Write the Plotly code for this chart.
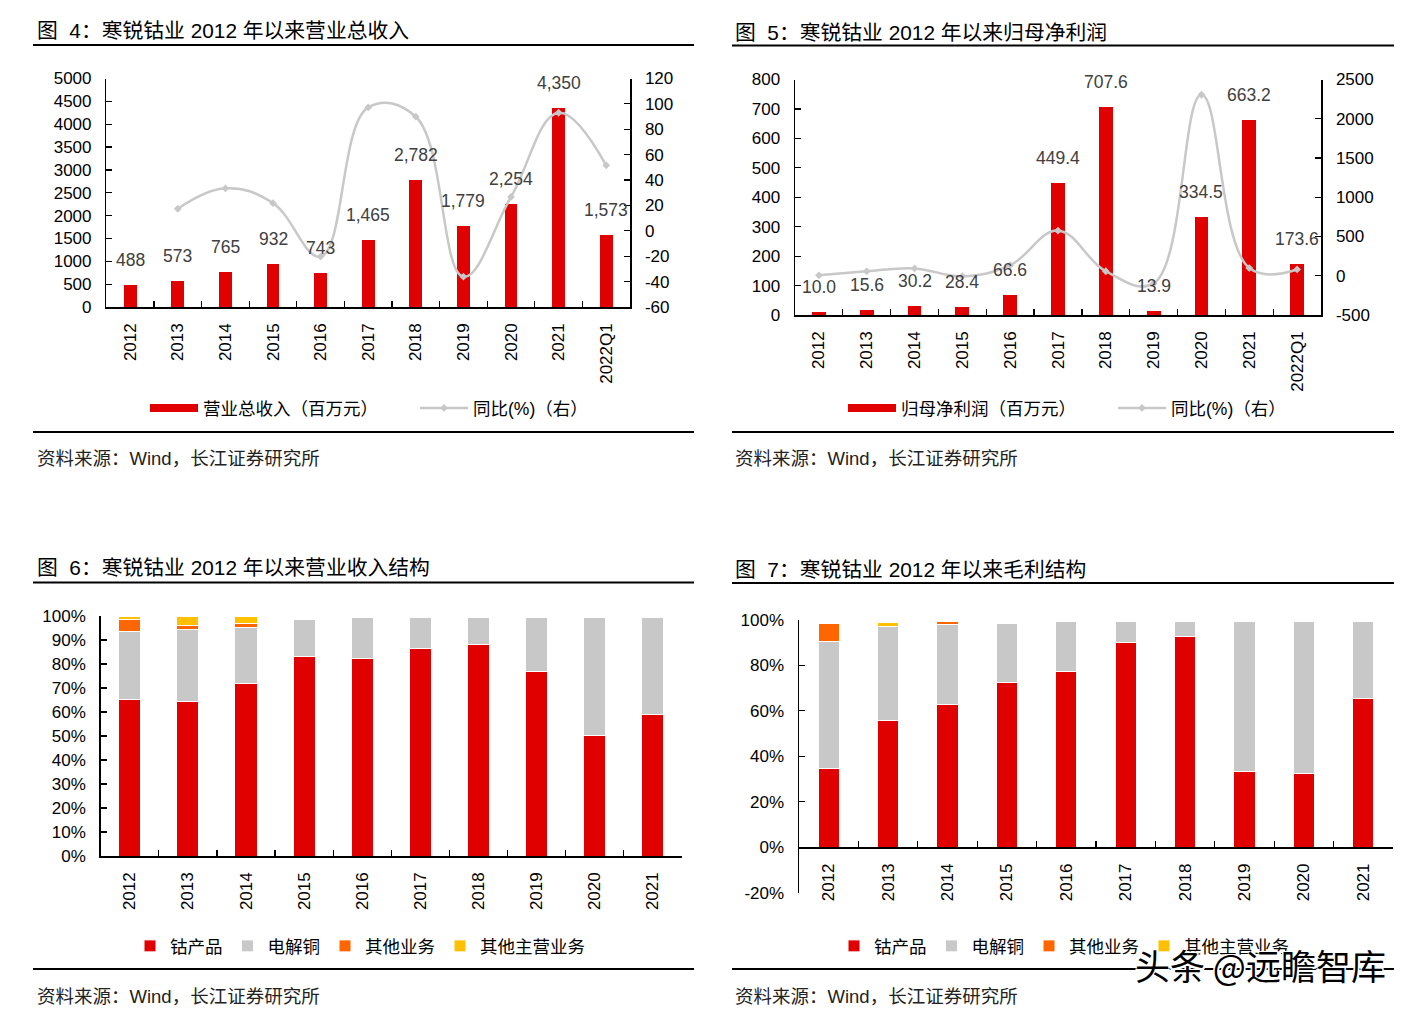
import plotly.graph_objects as go

W, H = 1425, 1012
FONT = "Liberation Sans, Arial, Noto Sans CJK SC, sans-serif"
RED = "#E00000"
GRAY = "#C8C8C8"
ORANGE = "#FF6600"
YELLOW = "#FFC000"
LABEL = "#404040"

# ---------------- data ----------------
cats_a = ["2012", "2013", "2014", "2015", "2016", "2017", "2018", "2019", "2020", "2021", "2022Q1"]
revenue = [488, 573, 765, 932, 743, 1465, 2782, 1779, 2254, 4350, 1573]
revenue_yoy = [None, 17.4, 33.5, 21.8, -20.3, 97.2, 89.9, -36.1, 26.7, 93.0, 51.6]
net_profit = [10.0, 15.6, 30.2, 28.4, 66.6, 449.4, 707.6, 13.9, 334.5, 663.2, 173.6]
profit_yoy = [5, 56.0, 93.6, -6.0, 134.5, 574.8, 57.5, -98.0, 2306, 98.3, 80]

cats_b = ["2012", "2013", "2014", "2015", "2016", "2017", "2018", "2019", "2020", "2021"]
rev_cobalt = [65.3, 64.4, 72.0, 83.1, 82.3, 86.5, 88.0, 76.7, 50.2, 59.0]
rev_copper = [28.4, 30.0, 23.3, 15.4, 16.9, 12.7, 11.2, 22.5, 49.0, 40.2]
rev_other = [4.8, 1.6, 1.6, 0, 0, 0, 0, 0, 0, 0]
rev_other_main = [1.5, 4.0, 3.1, 0, 0, 0, 0, 0, 0, 0]

gp_cobalt = [34.7, 55.9, 62.8, 72.3, 77.3, 90.0, 92.5, 33.1, 32.2, 65.3]
gp_copper = [55.7, 41.3, 35.0, 26.1, 22.0, 9.3, 6.8, 66.2, 67.1, 34.0]
gp_other = [8.0, 0, 1.5, 0, 0, 0, 0, 0, 0, 0]
gp_other_main = [0, 1.6, 0, 0, 0, 0, 0, 0, 0, 0]

rev_ticks = list(range(0, 5001, 500))
rev_yoy_ticks = list(range(-60, 121, 20))
np_ticks = list(range(0, 801, 100))
np_yoy_ticks = list(range(-500, 2501, 500))
pct_ticks_a = list(range(0, 101, 10))
pct_ticks_b = list(range(-20, 101, 20))

series_names = ["钴产品", "电解铜", "其他业务", "其他主营业务"]

# ---------------- helpers ----------------
def fx(px):
    return px / W

def fy(py):
    return 1 - py / H

def xdom(a, b):
    return [fx(a), fx(b)]

def ydom(top, bottom):
    return [fy(bottom), fy(top)]

fig = go.Figure()

# ---- chart 1 ----
fig.add_trace(go.Bar(x=cats_a, y=revenue, xaxis="x", yaxis="y", marker_color=RED,
                     width=0.27, showlegend=False))
fig.add_trace(go.Scatter(x=cats_a[:1], y=[None], xaxis="x", yaxis="y", mode="lines",
                         line=dict(color=RED, width=8), name="营业总收入（百万元）", legend="legend"))
fig.add_trace(go.Scatter(x=cats_a, y=revenue_yoy, xaxis="x", yaxis="y2", mode="lines+markers",
                         line=dict(color=GRAY, width=2.5, shape="spline", smoothing=1.15),
                         marker=dict(symbol="diamond", size=6, color=GRAY),
                         name="同比(%)（右）", legend="legend"))

# ---- chart 2 ----
fig.add_trace(go.Bar(x=cats_a, y=net_profit, xaxis="x2", yaxis="y3", marker_color=RED,
                     width=0.29, showlegend=False))
fig.add_trace(go.Scatter(x=cats_a[:1], y=[None], xaxis="x2", yaxis="y3", mode="lines",
                         line=dict(color=RED, width=8), name="归母净利润（百万元）", legend="legend2"))
fig.add_trace(go.Scatter(x=cats_a, y=profit_yoy, xaxis="x2", yaxis="y4", mode="lines+markers",
                         line=dict(color=GRAY, width=2.5, shape="spline", smoothing=1.15),
                         marker=dict(symbol="diamond", size=6, color=GRAY),
                         name="同比(%)（右）", legend="legend2"))

# ---- chart 3 ----
for vals, name, col in zip([rev_cobalt, rev_copper, rev_other, rev_other_main], series_names,
                           [RED, GRAY, ORANGE, YELLOW]):
    fig.add_trace(go.Bar(x=cats_b, y=vals, xaxis="x3", yaxis="y5", name=name, marker_color=col,
                         marker_line=dict(color="white", width=1.0), width=0.38, legend="legend3"))

# ---- chart 4 ----
for vals, name, col in zip([gp_cobalt, gp_copper, gp_other, gp_other_main], series_names,
                           [RED, GRAY, ORANGE, YELLOW]):
    fig.add_trace(go.Bar(x=cats_b, y=vals, xaxis="x4", yaxis="y6", name=name, marker_color=col,
                         marker_line=dict(color="white", width=1.0), width=0.36, legend="legend4"))

tickfont = dict(family=FONT, size=17, color="black")

def cat_axis(domain, anchor, cats, position=None):
    d = dict(domain=domain, type="category", categoryorder="array", categoryarray=cats,
             range=[-0.5, len(cats) - 0.5], showline=True, linecolor="black", linewidth=1.5,
             ticks="inside", ticklen=6, tickcolor="black", tickwidth=1.2, tickson="boundaries",
             tickangle=-90, tickfont=tickfont, showgrid=False, zeroline=False,
             ticklabelstandoff=8, fixedrange=True, automargin=False)
    if position is None:
        d["anchor"] = anchor
    else:
        d["anchor"] = "free"
        d["position"] = position
    return d

def val_axis(domain, anchor, rng, tv, side="left", overlaying=None, suffix=""):
    d = dict(domain=domain, anchor=anchor, range=rng, side=side, showline=True, linecolor="black",
             linewidth=1.5, ticks="inside", ticklen=6, tickcolor="black", tickwidth=1.2,
             tickvals=tv, ticktext=[f"{v}{suffix}" for v in tv], tickfont=tickfont,
             showgrid=False, zeroline=False, ticklabelstandoff=10, fixedrange=True, automargin=False)
    if overlaying:
        d["overlaying"] = overlaying
    return d

c1x, c1y = xdom(106.4, 630), ydom(78.5, 307)
c2x, c2y = xdom(795, 1321), ydom(79.5, 315)
c3x, c3y = xdom(100.7, 682), ydom(616, 856)
c4x, c4y = xdom(799, 1393), ydom(619.7, 892.7)
zero4 = c4y[0] + (0 - (-20)) / 120 * (c4y[1] - c4y[0])

layout = dict(
    width=W, height=H, margin=dict(l=0, r=0, t=0, b=0, pad=0, autoexpand=False),
    template="none",
    paper_bgcolor="white", plot_bgcolor="white",
    font=dict(family=FONT, size=17, color="black"),
    barmode="stack",
    xaxis=cat_axis(c1x, "y", cats_a),
    yaxis=val_axis(c1y, "x", [0, 5000], rev_ticks),
    yaxis2=val_axis(c1y, "x", [-60, 120], rev_yoy_ticks, side="right", overlaying="y"),
    xaxis2=cat_axis(c2x, "y3", cats_a),
    yaxis3=val_axis(c2y, "x2", [0, 800], np_ticks),
    yaxis4=val_axis(c2y, "x2", [-500, 2500], np_yoy_ticks, side="right", overlaying="y3"),
    xaxis3=cat_axis(c3x, "y5", cats_b),
    yaxis5=val_axis(c3y, "x3", [0, 100], pct_ticks_a, suffix="%"),
    xaxis4=cat_axis(c4x, "y6", cats_b, position=zero4),
    yaxis6=val_axis(c4y, "x4", [-20, 100], pct_ticks_b, suffix="%"),
)

legend_common = dict(orientation="h", yanchor="middle", bgcolor="rgba(0,0,0,0)",
                     font=dict(family=FONT, size=17.5, color="black"), traceorder="normal")
layout["legend"] = dict(legend_common, x=fx(145), xanchor="left", y=fy(408), itemwidth=48,
                        entrywidth=207, entrywidthmode="pixels")
layout["legend2"] = dict(legend_common, x=fx(843), xanchor="left", y=fy(408), itemwidth=48,
                         entrywidth=207, entrywidthmode="pixels")
layout["legend3"] = dict(legend_common, x=fx(360), xanchor="center", y=fy(946), itemwidth=30)
layout["legend4"] = dict(legend_common, x=fx(1064), xanchor="center", y=fy(946), itemwidth=30)

fig.update_layout(**layout)

# ---- data labels ----
ann = []
for i, v in enumerate(revenue):
    ann.append(dict(x=i, y=v, xref="x", yref="y", text=f"{v:,.0f}", showarrow=False,
                    yshift=25, yanchor="middle", font=dict(family=FONT, size=17.5, color=LABEL)))
for i, v in enumerate(net_profit):
    ann.append(dict(x=i, y=v, xref="x2", yref="y3", text=f"{v:.1f}", showarrow=False,
                    yshift=25, yanchor="middle", font=dict(family=FONT, size=17.5, color=LABEL)))

# ---- titles, sources, rules ----
titles = [
    (35, 30.5, "图  4：寒锐钴业 2012 年以来营业总收入"),
    (733, 32.5, "图  5：寒锐钴业 2012 年以来归母净利润"),
    (35, 567.5, "图  6：寒锐钴业 2012 年以来营业收入结构"),
    (733, 569, "图  7：寒锐钴业 2012 年以来毛利结构"),
]
for x0, y0, t in titles:
    ann.append(dict(x=fx(x0), y=fy(y0), xref="paper", yref="paper", text=t, showarrow=False,
                    xanchor="left", yanchor="middle", font=dict(family=FONT, size=20.8, color="black")))
sources = [(35, 458.5), (733, 458.5), (35, 996), (733, 996)]
for x0, y0 in sources:
    ann.append(dict(x=fx(x0), y=fy(y0), xref="paper", yref="paper", text="资料来源：Wind，长江证券研究所",
                    showarrow=False, xanchor="left", yanchor="middle",
                    font=dict(family=FONT, size=18.5, color="#222222")))
ann.append(dict(x=fx(1133), y=fy(964), xref="paper", yref="paper", text="头条 @远瞻智库", showarrow=False,
                xanchor="left", yanchor="middle",
                font=dict(family="Noto Sans CJK SC, sans-serif", size=35, color="#000000",
                          shadow="1.5px 1.5px 0 #fff, -1.5px -1.5px 0 #fff, 1.5px -1.5px 0 #fff, -1.5px 1.5px 0 #fff")))
fig.update_layout(annotations=ann)

shapes = []
for x0, x1, y0 in [(33, 694, 45), (732, 1394, 45.5), (33, 694, 432), (732, 1394, 432),
                   (33, 694, 582.5), (732, 1394, 583), (33, 694, 969), (732, 1394, 969)]:
    shapes.append(dict(type="line", xref="paper", yref="paper", x0=fx(x0), x1=fx(x1), y0=fy(y0), y1=fy(y0),
                       line=dict(color="black", width=2)))
fig.update_layout(shapes=shapes)

fig.write_html("out.html", config={"displayModeBar": False, "staticPlot": True},
               post_script="document.body.style.margin='0px';document.body.style.overflow='hidden';")
